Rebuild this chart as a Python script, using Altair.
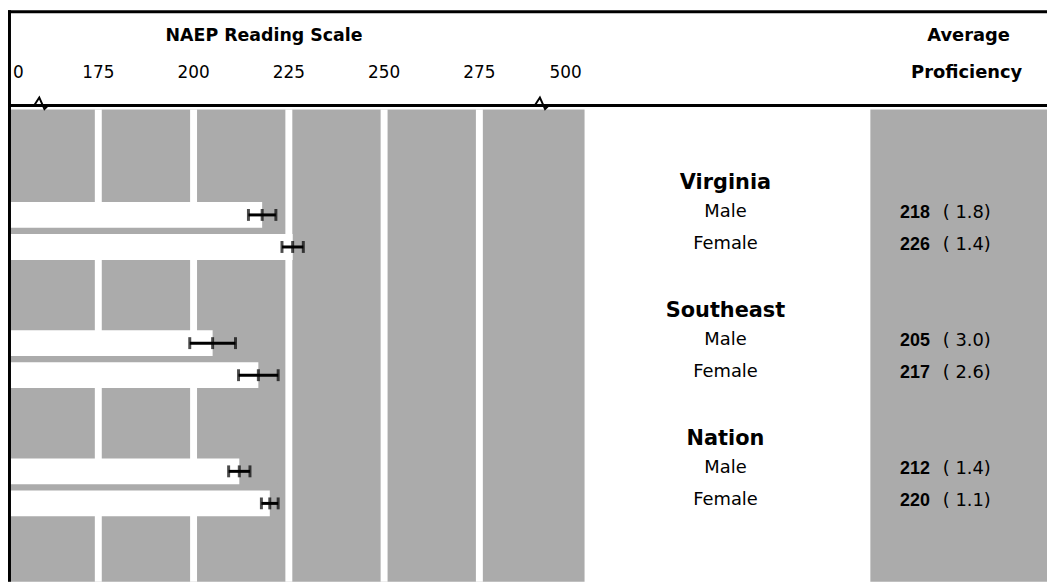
import altair as alt
import pandas as pd

# ---- data ----
groups = ["Virginia", "Southeast", "Nation"]
sexes = ["Male", "Female"]
means = [218, 226, 205, 217, 212, 220]
ses = [1.8, 1.4, 3.0, 2.6, 1.4, 1.1]
tick_values = [0, 175, 200, 225, 250, 275, 500]
grid_values = [175, 200, 225, 250, 275]
break_values = [66, 440]

# ---- tables built from the lists ----
rows = []
for gi, g in enumerate(groups):
    for si, s in enumerate(sexes):
        k = gi * 2 + si
        rows.append({
            "group": g, "sex": s, "row": gi * 4 + 1 + si,
            "mean": means[k], "se": ses[k],
            "lo": means[k] - 2 * ses[k], "hi": means[k] + 2 * ses[k],
            "start": 0,
            "mean_txt": str(means[k]), "se_txt": f"( {ses[k]:.1f})",
        })
df = pd.DataFrame(rows)
gdf = pd.DataFrame({"group": groups, "row": [i * 4 for i in range(len(groups))],
                    "start": [0] * 3, "gap_end": [222] * 3,
                    "gap_row": [i * 4 + 1.5 for i in range(len(groups))]})
ticks_df = pd.DataFrame({"v": tick_values, "lab": [str(t) for t in tick_values]})
grid_df = pd.DataFrame({"v": grid_values})
brk_df = pd.DataFrame({"v": break_values})
one = pd.DataFrame({"a": [0]})
capdf = pd.concat([
    df[["row", "lo"]].rename(columns={"lo": "x"}),
    df[["row", "hi"]].rename(columns={"hi": "x"}),
    df[["row", "mean"]].rename(columns={"mean": "x"}),
])

GRAY = "#ababab"
xs = alt.Scale(domain=[0, 175, 275, 500], range=[0, 91, 475, 562], nice=False, zero=False)
ys = alt.Scale(domain=[0, 10], range=[169, 502], nice=False, zero=False)

def X(f):
    return alt.X(f, type="quantitative", scale=xs, axis=None)

def Y(f):
    return alt.Y(f, type="quantitative", scale=ys, axis=None)

base1 = alt.Chart(one)
bg_left = base1.mark_rect(color=GRAY).encode(
    x=alt.value(0), x2=alt.value(581), y=alt.value(100), y2=alt.value(576))
bg_right = base1.mark_rect(color=GRAY).encode(
    x=alt.value(869), x2=alt.value(1047), y=alt.value(100), y2=alt.value(576))

grid = alt.Chart(grid_df).mark_rule(color="white", strokeWidth=7).encode(
    x=X("v"), y=alt.value(100), y2=alt.value(576))

gaps = alt.Chart(gdf).mark_bar(color=GRAY, orient="horizontal", size=8).encode(
    x=X("start"), x2="gap_end", y=Y("gap_row"))

bars = alt.Chart(df).mark_bar(color="white", orient="horizontal", size=26).encode(
    x=X("start"), x2="mean", y=Y("row"))

err = alt.Chart(df).mark_rule(color="black", strokeWidth=3).encode(
    x=X("lo"), x2="hi", y=Y("row"))
caps = alt.Chart(capdf).mark_tick(color="black", orient="vertical", size=12, thickness=3).encode(
    x=X("x"), y=Y("row"))

sex_txt = alt.Chart(df).mark_text(font="DejaVu Sans", fontSize=18, color="black",
                                  align="center", baseline="middle", dy=-3).encode(
    x=alt.value(723), y=Y("row"), text="sex")
grp_txt = alt.Chart(gdf).mark_text(font="DejaVu Sans", fontSize=21, fontWeight="bold",
                                   color="black", align="center", baseline="middle").encode(
    x=alt.value(723), y=Y("row"), text="group")
mean_txt = alt.Chart(df).mark_text(font="Liberation Sans", fontSize=18, fontWeight="bold",
                                   color="black", align="right", baseline="middle", dy=-2).encode(
    x=alt.value(929), y=Y("row"), text="mean_txt")
se_txt = alt.Chart(df).mark_text(font="DejaVu Sans", fontSize=18, color="black",
                                 align="left", baseline="middle", dy=-2).encode(
    x=alt.value(942), y=Y("row"), text="se_txt")

title_txt = base1.mark_text(text="NAEP Reading Scale", font="DejaVu Sans", fontSize=17.5,
                            fontWeight="bold", color="black", baseline="middle").encode(
    x=alt.value(258), y=alt.value(26))
avg_txt = base1.mark_text(text="Average", font="DejaVu Sans", fontSize=18,
                          fontWeight="bold", color="black", baseline="middle").encode(
    x=alt.value(968), y=alt.value(26))
prof_txt = base1.mark_text(text="Proficiency", font="DejaVu Sans", fontSize=18,
                           fontWeight="bold", color="black", baseline="middle").encode(
    x=alt.value(966), y=alt.value(63))

tick_lab = alt.Chart(ticks_df).transform_filter("datum.v > 0").mark_text(
    font="DejaVu Sans", fontSize=17, color="black", align="center", baseline="middle").encode(
    x=X("v"), y=alt.value(63), text="lab")
zero_lab = alt.Chart(ticks_df).transform_filter("datum.v == 0").mark_text(
    font="DejaVu Sans", fontSize=17, color="black", align="left", baseline="middle", dx=5).encode(
    x=X("v"), y=alt.value(63), text="lab")

top_line = base1.mark_rule(color="black", strokeWidth=3).encode(
    x=alt.value(0), x2=alt.value(1047), y=alt.value(1.5))
left_line = base1.mark_rule(color="black", strokeWidth=4).encode(
    x=alt.value(1), y=alt.value(0), y2=alt.value(576))
axis_line = base1.mark_rule(color="black", strokeWidth=3).encode(
    x=alt.value(0), x2=alt.value(1047), y=alt.value(96))

brk = alt.Chart(brk_df).mark_point(
    shape="M-1,0L-0.35,-1L0.3,0.45L0.75,0L1,0", filled=False, stroke="black",
    strokeWidth=2, size=256, opacity=1).encode(
    x=X("v"), y=alt.value(96))

chart = alt.layer(
    bg_left, bg_right, grid, gaps, bars, err, caps,
    sex_txt, grp_txt, mean_txt, se_txt,
    title_txt, avg_txt, prof_txt, tick_lab, zero_lab,
    top_line, left_line, axis_line, brk,
).properties(
    width=1047, height=576, padding=0, autosize=alt.AutoSizeParams(type="none"),
    background="white",
).configure_view(stroke=None)

chart.save("out.html", embed_options={"renderer": "svg", "actions": False})
